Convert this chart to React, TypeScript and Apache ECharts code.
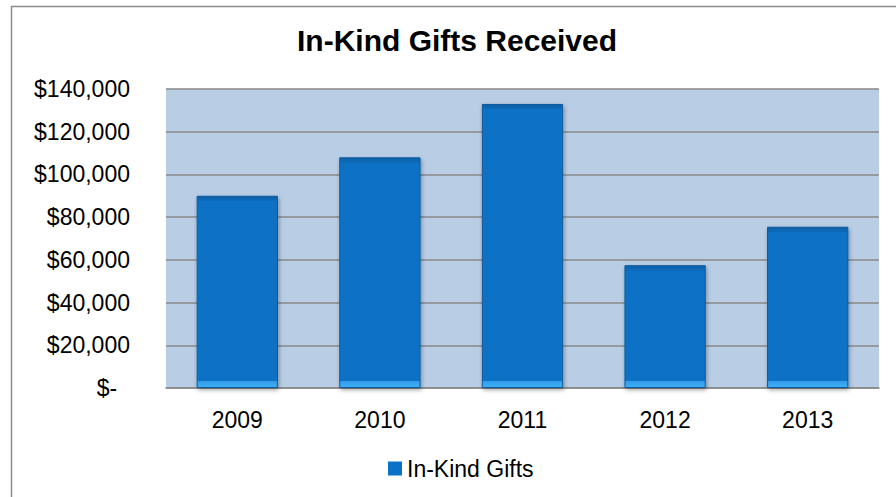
import React, { useEffect, useRef } from "react";
import * as echarts from "echarts";

const categories = ["2009", "2010", "2011", "2012", "2013"];
const giftValues = [90000, 108000, 133000, 57500, 75500];
const seriesName = "In-Kind Gifts";
const chartTitle = "In-Kind Gifts Received";
const yMax = 140000;
const yStep = 20000;

const FONT = "'Liberation Sans', Arial, sans-serif";
const PLOT_H = 299;

function barColor(v: number) {
  const h = (v / yMax) * PLOT_H;
  const top = Math.min(0.5, 5 / h);
  const bot = Math.max(0.5, 1 - 7 / h);
  return new echarts.graphic.LinearGradient(0, 0, 0, 1, [
    { offset: 0, color: "#0b5fa6" },
    { offset: top, color: "#0a6cbc" },
    { offset: top + 0.0001, color: "#0a72c6" },
    { offset: bot, color: "#0a72c6" },
    { offset: bot + 0.0001, color: "#2f9be6" },
    { offset: 1, color: "#3fb0f6" },
  ]);
}

export default function App() {
  const ref = useRef<HTMLDivElement>(null);
  useEffect(() => {
    if (!ref.current) return;
    const chart = echarts.init(ref.current, undefined, { renderer: "svg" });
    chart.setOption({
      animation: false,
      backgroundColor: "#ffffff",
      title: {
        text: chartTitle,
        left: 297,
        top: 25,
        padding: 0,
        textStyle: { fontFamily: FONT, fontSize: 30, fontWeight: "bold", color: "#000" },
      },
      legend: {
        data: [seriesName],
        left: 388,
        top: 457,
        padding: 0,
        itemWidth: 14,
        itemHeight: 14,
        icon: "rect",
        textStyle: { fontFamily: FONT, fontSize: 23, color: "#000" },
      },
      grid: { left: 166, top: 89, right: 17, bottom: 109, containLabel: false, show: true, backgroundColor: "#b9cde5", borderWidth: 0 },
      xAxis: {
        type: "category",
        data: categories,
        axisTick: { show: false },
        axisLine: { show: true, lineStyle: { color: "#8a8a8a", width: 1.5 } },
        axisLabel: { margin: 20, fontFamily: FONT, fontSize: 23, color: "#000" },
      },
      yAxis: {
        type: "value",
        min: 0,
        max: yMax,
        interval: yStep,
        axisLine: { show: false },
        axisTick: { show: false },
        splitLine: { show: true, lineStyle: { color: "#888888", width: 1.5 } },
        axisLabel: {
          margin: 36,
          fontFamily: FONT,
          fontSize: 23,
          color: "#000",
          formatter: (v: number) => (v === 0 ? "$-  " : "$" + v.toLocaleString("en-US")),
        },
      },
      series: [
        {
          name: seriesName,
          type: "bar",
          barWidth: "57%",
          data: giftValues.map((v) => ({
            value: v,
            itemStyle: {
              color: barColor(v),
              borderColor: "#0b5a9e",
              borderWidth: 1,
              shadowColor: "rgba(0,0,0,0.35)",
              shadowBlur: 4,
              shadowOffsetX: 1,
              shadowOffsetY: 2,
            },
          })),
          itemStyle: { color: "#0a72c6" },
        },
      ],
      graphic: [
        {
          type: "rect",
          left: 9,
          top: 4,
          shape: { width: 900, height: 500 },
          style: { fill: "none", stroke: "#8c8c8c", lineWidth: 1.5 },
          silent: true,
          z: 100,
        },
      ],
    });
    return () => chart.dispose();
  }, []);
  return (
    <div
      ref={ref}
      style={{ position: "fixed", left: 0, top: 0, width: 896, height: 497 }}
    />
  );
}
